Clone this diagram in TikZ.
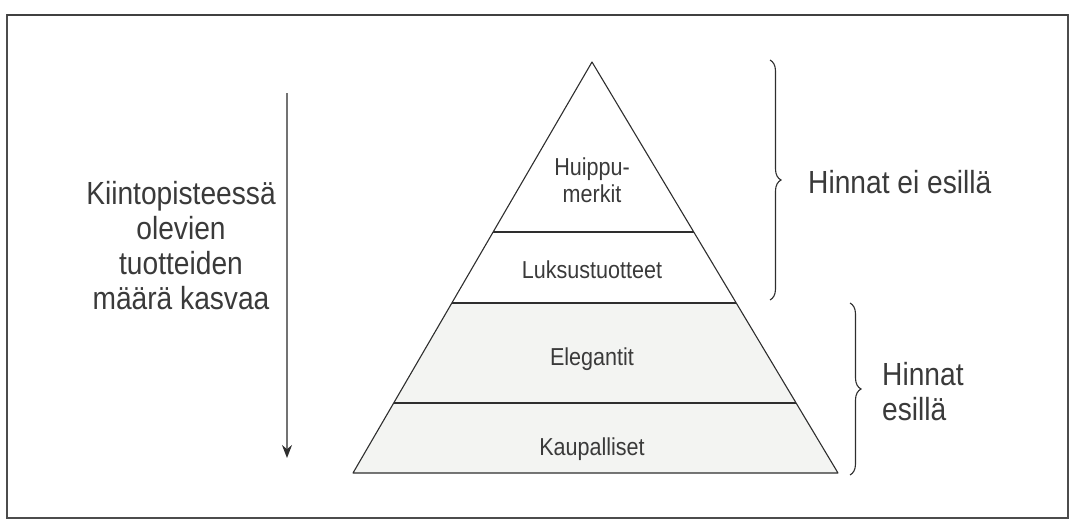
\documentclass[tikz,border=0pt]{standalone}
\usepackage{fontspec}
\setmainfont{Liberation Sans}[FakeStretch=0.88]
\usetikzlibrary{calc,arrows.meta,decorations.pathreplacing}
\definecolor{ink}{HTML}{2E2E2E}
\definecolor{txt}{HTML}{3A3A3A}
\definecolor{band}{HTML}{F3F4F2}
\begin{document}
\begin{tikzpicture}[x=1pt,y=-1pt,
  layer/.style={draw=ink,line width=1.1pt,line join=round},
  lbl/.style={text=txt,anchor=base,inner sep=0pt,font=\fontsize{24.5}{27}\selectfont},
  big/.style={text=txt,inner sep=0pt,font=\fontsize{32}{34.7}\selectfont},
  bracestyle/.style={draw=ink,line width=1.1pt,decorate,
    decoration={brace,amplitude=11pt,aspect=0.5}}]
\useasboundingbox (0,0) rectangle (1072,522);
% frame
\draw[draw=black!70,line width=1.2pt] (7,15) rectangle (1068,518);
\draw[draw=black!75,line width=2pt] (7,15) -- (1068,15);

% pyramid corners and divider points
\coordinate (A) at (592,62);
\coordinate (BL) at (353,473);
\coordinate (BR) at (838,473);
\coordinate (L1) at ($(A)!0.4136!(BL)$);
\coordinate (R1) at ($(A)!0.4136!(BR)$);
\coordinate (L2) at ($(A)!0.5864!(BL)$);
\coordinate (R2) at ($(A)!0.5864!(BR)$);
\coordinate (L3) at ($(A)!0.8297!(BL)$);
\coordinate (R3) at ($(A)!0.8297!(BR)$);

% layers
\fill[band] (L2) -- (R2) -- (BR) -- (BL) -- cycle;
\draw[layer] (A) -- (BR) -- (BL) -- cycle;
\draw[layer] (L1) -- (R1);
\draw[layer] (L2) -- (R2);
\draw[layer] (L3) -- (R3);

% layer labels
\node[lbl] (huippu) at (592,175) {Huippu-};
\node[lbl] (merkit) at (592,202) {merkit};
\node[lbl] (luksus) at (592,278) {Luksustuotteet};
\node[lbl] (eleg) at (592,365) {Elegantit};
\node[lbl] (kaup) at (592,455) {Kaupalliset};

% left caption and arrow (base anchor = last line)
\node[big,align=center,anchor=base] (kiinto) at (181,309)
  {Kiintopisteessä\\olevien\\tuotteiden\\määrä kasvaa};
\coordinate (arrTop) at (287,93);
\coordinate (arrBot) at (287,458);
\draw[draw=black!55,line width=1.3pt,-{Stealth[length=13pt,width=10pt,color=ink]}] (arrTop) -- (arrBot);

% braces on the right
\coordinate (b1top) at (770,60);
\coordinate (b1bot) at (770,300);
\coordinate (b2top) at (850,303);
\coordinate (b2bot) at (850,475);
\draw[bracestyle] (b1top) -- (b1bot);
\draw[bracestyle] (b2top) -- (b2bot);

\node[big,anchor=base west] (eiesilla) at (808,193) {Hinnat ei esillä};
\node[big,anchor=base west] (hinnat) at (882,385) {Hinnat};
\node[big,anchor=base west] (esilla) at (882,420) {esillä};
\end{tikzpicture}
\end{document}
